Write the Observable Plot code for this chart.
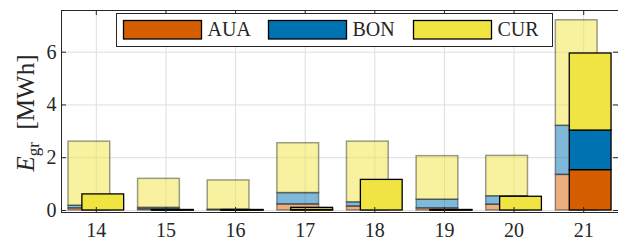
<!DOCTYPE html>
<html><head><meta charset="utf-8">
<script src="https://cdn.jsdelivr.net/npm/d3@7"></script>
<script src="https://cdn.jsdelivr.net/npm/@observablehq/plot@0.6"></script>
<style>
body{margin:0;background:#fff}
svg{display:block}
svg, svg text{font-family:"Liberation Serif", serif !important;}
</style>
</head><body><div id="chart"></div>
<script>
const days = [14, 15, 16, 17, 18, 19, 20, 21];
const series = ["AUA", "BON", "CUR"];
const colors = ["#D55E00", "#0072B2", "#F0E442"];
const yTicks = [0, 2, 4, 6];
// wide, faded bars
const lightAUA = [0.08, 0.04, 0.01, 0.23, 0.15, 0.08, 0.22, 1.35];
const lightBON = [0.10, 0.06, 0.02, 0.43, 0.16, 0.33, 0.32, 1.86];
const lightCUR = [2.43, 1.10, 1.11, 1.89, 2.30, 1.65, 1.53, 4.00];
// solid bars
const darkAUA = [0, 0.005, 0.005, 0.01, 0, 0.005, 0, 1.53];
const darkBON = [0, 0.005, 0.005, 0.01, 0, 0.005, 0, 1.50];
const darkCUR = [0.61, 0.01, 0.01, 0.08, 1.16, 0.01, 0.52, 2.92];

function stackRows(arrs, offset) {
  const rows = [];
  days.forEach((d, i) => {
    let base = 0;
    series.forEach((s, k) => {
      const v = arrs[k][i];
      rows.push({day: d, series: s, off: offset, y1: base, y2: base + v});
      base += v;
    });
  });
  return rows;
}
const light = stackRows([lightAUA, lightBON, lightCUR], -0.1);
const dark = stackRows([darkAUA, darkBON, darkCUR], 0.1);
const half = 0.3;

const W = 618, H = 242, mL = 61, mR = 0, mT = 10, mB = 30;
const ink = "#262626";
const serif = "Liberation Serif";

const plot = Plot.plot({
  width: W, height: H,
  marginLeft: mL, marginRight: mR, marginTop: mT, marginBottom: mB,
  style: {fontFamily: serif, fontSize: "20px", color: ink, background: "#fff"},
  x: {type: "linear", domain: [13.5, 21.5]},
  y: {domain: [-0.076, 7.58]},
  color: {domain: series, range: colors},
  marks: [
    Plot.ruleX(days, {x: d => d, stroke: "#dedede", strokeWidth: 1}),
    Plot.ruleY(yTicks, {y: d => d, stroke: "#dedede", strokeWidth: 1}),
    Plot.rect(light, {
      x1: d => d.day + d.off - half, x2: d => d.day + d.off + half,
      y1: "y1", y2: "y2", fill: "series", fillOpacity: 0.5,
      stroke: "#000", strokeOpacity: 0.38, strokeWidth: 1.5
    }),
    Plot.rect(dark, {
      x1: d => d.day + d.off - half, x2: d => d.day + d.off + half,
      y1: "y1", y2: "y2", fill: "series",
      stroke: "#000", strokeWidth: 1.3
    }),
    Plot.frame({stroke: ink, strokeWidth: 1}),
    Plot.tickX(days, {x: d => d, stroke: ink, insetTop: H - mT - mB - 5}),
    Plot.tickX(days, {x: d => d, stroke: ink, insetBottom: H - mT - mB - 5}),
    Plot.tickY(yTicks, {y: d => d, stroke: ink, insetRight: W - mL - mR - 5}),
    Plot.tickY(yTicks, {y: d => d, stroke: ink, insetLeft: W - mL - mR - 5}),
    Plot.axisX(days, {tickSize: 0, tickPadding: 10, tickFormat: d => String(d), label: null, fill: ink, fontFamily: serif, fontSize: 20}),
    Plot.axisY(yTicks, {tickSize: 0, tickPadding: 5, tickFormat: d => String(d), label: null, fill: ink, fontFamily: serif, fontSize: 20})
  ]
});
document.getElementById("chart").appendChild(plot);

const svg = d3.select(plot);
// y label
const yl = svg.append("text")
  .attr("transform", "translate(34,113) rotate(-90)")
  .attr("text-anchor", "middle")
  .attr("fill", ink)
  .attr("font-family", serif)
  .attr("font-size", 25);
yl.append("tspan").attr("font-style", "italic").text("E");
yl.append("tspan").attr("font-size", 17).attr("dy", 5).text("gr");
yl.append("tspan").attr("dy", -5).text("\u2002[MWh]");

// legend
const lg = svg.append("g").attr("text-anchor", "start");
lg.append("rect").attr("x", 116.5).attr("y", 13.5).attr("width", 436).attr("height", 33)
  .attr("fill", "#fff").attr("stroke", ink).attr("stroke-width", 1);
const lx = [123.5, 268.5, 413.5];
series.forEach((s, i) => {
  lg.append("rect").attr("x", lx[i]).attr("y", 20.5).attr("width", 78).attr("height", 18.5)
    .attr("fill", colors[i]).attr("stroke", "#000").attr("stroke-width", 1.3);
  lg.append("text").attr("x", lx[i] + 84).attr("y", 36)
    .attr("text-anchor", "start")
    .attr("fill", ink)
    .attr("font-family", serif).attr("font-size", 20)
    .text(s);
});
</script>
</body></html>
